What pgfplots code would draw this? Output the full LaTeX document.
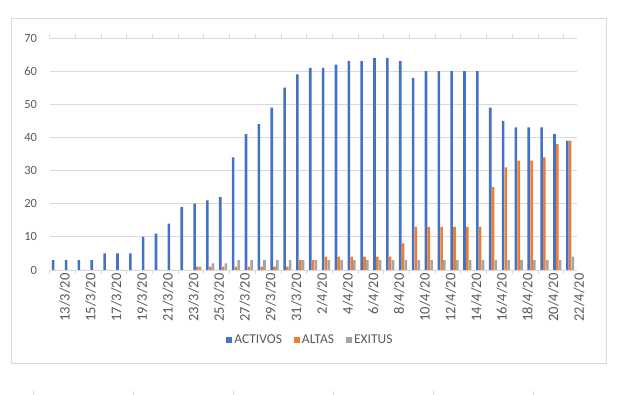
\documentclass[border=0pt]{standalone}
\usepackage{pgfplots}
\pgfplotsset{compat=1.18}
\usepackage{pgfplotstable}
\usepackage{fontspec}
\setmainfont{Carlito}
\definecolor{cblue}{HTML}{4472C4}
\definecolor{corange}{HTML}{ED7D31}
\definecolor{cgray}{HTML}{A5A5A5}
\definecolor{gridc}{HTML}{D9D9D9}
\definecolor{txt}{HTML}{595959}
\pgfplotstableread{
x act alt exi
0 3 0 0
1 3 0 0
2 3 0 0
3 3 0 0
4 5 0 0
5 5 0 0
6 5 0 0
7 10 0 0
8 11 0 0
9 14 0 0
10 19 0 0
11 20 1 1
12 21 1 2
13 22 1 2
14 34 1 3
15 41 1 3
16 44 1 3
17 49 1 3
18 55 1 3
19 59 3 3
20 61 3 3
21 61 4 3
22 62 4 3
23 63 4 3
24 63 4 3
25 64 4 3
26 64 4 3
27 63 8 3
28 58 13 3
29 60 13 3
30 60 13 3
31 60 13 3
32 60 13 3
33 60 13 3
34 49 25 3
35 45 31 3
36 43 33 3
37 43 33 3
38 43 34 3
39 41 38 3
40 39 39 4
}\datatable
\begin{document}
\begin{tikzpicture}[x=1pt,y=1pt]
\path[use as bounding box] (0,0) rectangle (625,395);
\draw[gridc, line width=0.8pt] (11,377) rectangle (606,32);
\foreach \xx in {33,133,233,333,433,533} {\draw[gridc, line width=0.6pt] (\xx,0) -- (\xx,4);}
\begin{axis}[
  at={(56pt,125pt)}, anchor=origin,
  scale only axis, width=527pt, height=232pt,
  ybar=0.2pt, bar width=2.6pt,
  xmin=-0.5, xmax=40.5, ymin=0, ymax=70,
  ytick={0,10,...,70},
  /pgf/number format/assume math mode=true,
  ymajorgrids, grid style={gridc, line width=0.8pt},
  axis line style={draw=none},
  major tick length=0pt,
  xtick={0,2,...,40},
  xticklabels={\mbox{13/3/20},\mbox{15/3/20},\mbox{17/3/20},\mbox{19/3/20},\mbox{21/3/20},\mbox{23/3/20},\mbox{25/3/20},\mbox{27/3/20},\mbox{29/3/20},\mbox{31/3/20},\mbox{2/4/20},\mbox{4/4/20},\mbox{6/4/20},\mbox{8/4/20},\mbox{10/4/20},\mbox{12/4/20},\mbox{14/4/20},\mbox{16/4/20},\mbox{18/4/20},\mbox{20/4/20},\mbox{22/4/20}},
  xticklabel style={rotate=90, anchor=east, font=\fontsize{14.5}{16}\selectfont, text=txt, yshift=-9pt},
  yticklabel style={font=\fontsize{12.5}{14}\selectfont, text=txt, xshift=-9pt},
  extra x ticks={-0.5,1.5,...,39.5},
  extra x tick labels={},
  extra x tick style={major tick length=4pt, tick align=outside, tick style={gridc, line width=0.8pt}, grid=none},
  legend columns=3,
  legend style={at={(0.495,-0.3017)}, anchor=center, draw=none, fill=none,
    font=\fontsize{13.5}{15}\selectfont, text=txt,
    /tikz/every even column/.append style={column sep=10pt}},
  legend image code/.code={\fill[#1] (0pt,-3pt) rectangle (6pt,3pt);},
  clip=false,
]
\draw[gridc, line width=0.8pt] (axis cs:-0.5,0) -- (axis cs:40.5,0);
\addplot[fill=cblue, draw=none] table[x=x, y=act] {\datatable};
\addplot[fill=corange, draw=none] table[x=x, y=alt] {\datatable};
\addplot[fill=cgray, draw=none] table[x=x, y=exi] {\datatable};
\legend{ACTIVOS, ALTAS, EXITUS}
\end{axis}
\end{tikzpicture}
\end{document}
